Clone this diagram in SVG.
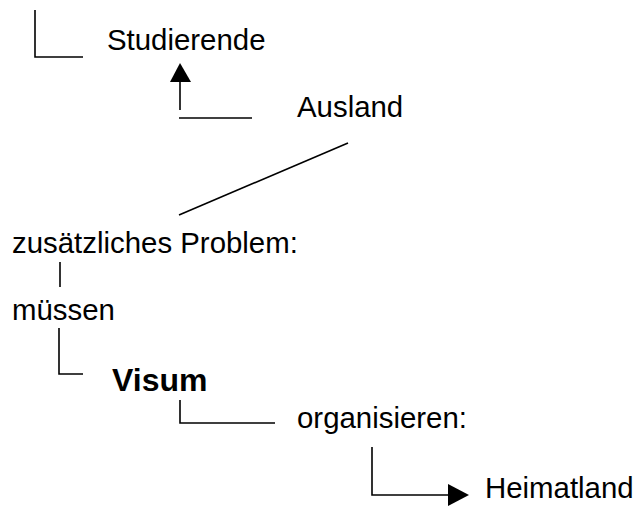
<svg xmlns="http://www.w3.org/2000/svg" width="638" height="510" viewBox="0 0 638 510">
<style>
text{font-family:"Liberation Sans",Arial,sans-serif;font-size:29.4px;fill:#000}
.b{font-weight:bold;font-size:32px}
.c line,.c polyline{stroke:#000;stroke-width:1.6;fill:none}
</style>
<rect width="638" height="510" fill="#fff"/>
<g class="c" id="connectors">
<polyline points="35,10 35,57 83,57"/>
<line x1="179" y1="118" x2="252" y2="118"/>
<line x1="180" y1="110" x2="180" y2="82"/>
<polygon points="180,63 170,82 191,82" fill="#000" stroke="none"/>
<line x1="348" y1="143" x2="179" y2="215"/>
<line x1="60" y1="262" x2="60" y2="287"/>
<polyline points="59,328 59,374 83,374"/>
<polyline points="180,400 180,423 275,423"/>
<polyline points="372,447 372,495 450,495"/>
<polygon points="469,495 448,484 448,506" fill="#000" stroke="none"/>
</g>
<g id="n-studierende"><text x="107" y="50">Studierende</text></g>
<g id="n-ausland"><text x="297" y="117">Ausland</text></g>
<g id="n-problem"><text x="12" y="253">zusätzliches Problem:</text></g>
<g id="n-muessen"><text x="12" y="320">müssen</text></g>
<g id="n-visum"><text class="b" x="112" y="391">Visum</text></g>
<g id="n-organisieren"><text x="297" y="428">organisieren:</text></g>
<g id="n-heimatland"><text x="485" y="498">Heimatland</text></g>
</svg>
